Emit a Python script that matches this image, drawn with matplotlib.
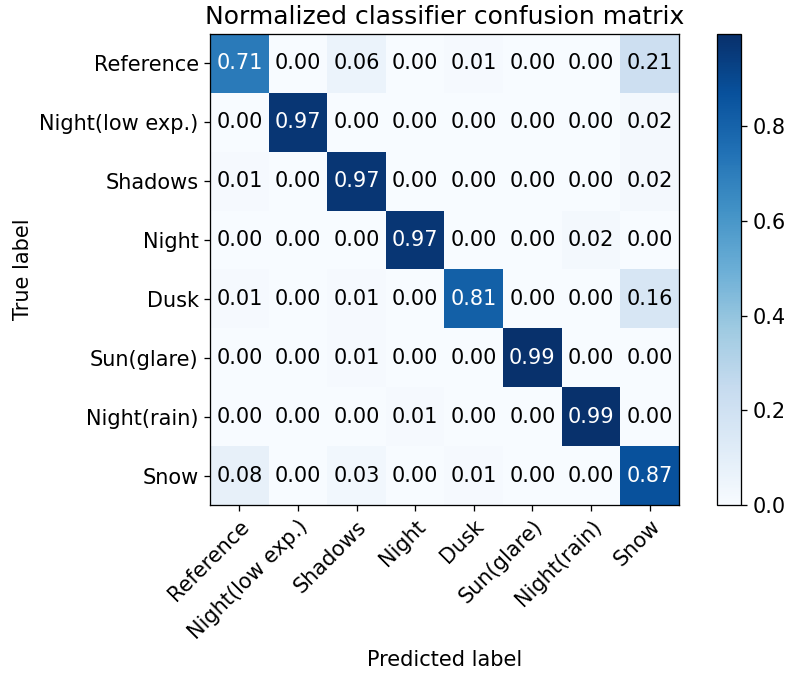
import numpy as np
import matplotlib
matplotlib.use("Agg")
import matplotlib.pyplot as plt

# class names (rows = true, cols = predicted)
classes = ['Reference', 'Night(low exp.)', 'Shadows', 'Night', 'Dusk',
           'Sun(glare)', 'Night(rain)', 'Snow']

row_reference = [0.71, 0.00, 0.06, 0.00, 0.01, 0.00, 0.00, 0.21]
row_night_low = [0.00, 0.97, 0.00, 0.00, 0.00, 0.00, 0.00, 0.02]
row_shadows = [0.01, 0.00, 0.97, 0.00, 0.00, 0.00, 0.00, 0.02]
row_night = [0.00, 0.00, 0.00, 0.97, 0.00, 0.00, 0.02, 0.00]
row_dusk = [0.01, 0.00, 0.01, 0.00, 0.81, 0.00, 0.00, 0.16]
row_sun = [0.00, 0.00, 0.01, 0.00, 0.00, 0.99, 0.00, 0.00]
row_night_rain = [0.00, 0.00, 0.00, 0.01, 0.00, 0.00, 0.99, 0.00]
row_snow = [0.08, 0.00, 0.03, 0.00, 0.01, 0.00, 0.00, 0.87]

cm = np.array([row_reference, row_night_low, row_shadows, row_night,
               row_dusk, row_sun, row_night_rain, row_snow])

# the original looks like a 100 dpi figure saved a bit larger
s = 1.17
plt.rcParams.update({
    'font.size': 15,
    'axes.linewidth': 0.8 * s,
    'xtick.major.size': 3.5 * s, 'ytick.major.size': 3.5 * s,
    'xtick.major.width': 0.8 * s, 'ytick.major.width': 0.8 * s,
    'xtick.major.pad': 3.5 * s, 'ytick.major.pad': 3.5 * s,
    'axes.labelpad': 4.0 * s, 'axes.titlepad': 6.0 * s,
})

W, H = 792, 678
fig = plt.figure(figsize=(W / 100, H / 100), dpi=100)
ax = fig.add_axes([210 / W, 1 - 505 / H, 469 / W, 471 / H])
cax = fig.add_axes([717 / W, 1 - 505 / H, 24 / W, 471 / H])

im = ax.imshow(cm, interpolation='nearest', cmap=plt.cm.Blues,
               vmin=0, vmax=0.995, aspect='auto')
cb = fig.colorbar(im, cax=cax)
cb.set_ticks([0.0, 0.2, 0.4, 0.6, 0.8])
cb.ax.tick_params(labelsize=15)
cb.outline.set_linewidth(0.8 * s)

ax.set_title('Normalized classifier confusion matrix', fontsize=18)
ticks = np.arange(len(classes))
ax.set_xticks(ticks)
ax.set_xticklabels(classes, rotation=45, ha='right', rotation_mode='anchor',
                   fontsize=15)
ax.set_yticks(ticks)
ax.set_yticklabels(classes, fontsize=15)

thresh = cm.max() / 2.
for i in range(cm.shape[0]):
    for j in range(cm.shape[1]):
        ax.text(j, i, format(cm[i, j], '.2f'), ha='center', va='center',
                fontsize=15,
                color='white' if cm[i, j] > thresh else 'black')

ax.set_ylabel('True label', fontsize=15)
ax.set_xlabel('Predicted label', fontsize=15)

fig.savefig('out.png', dpi=100)
